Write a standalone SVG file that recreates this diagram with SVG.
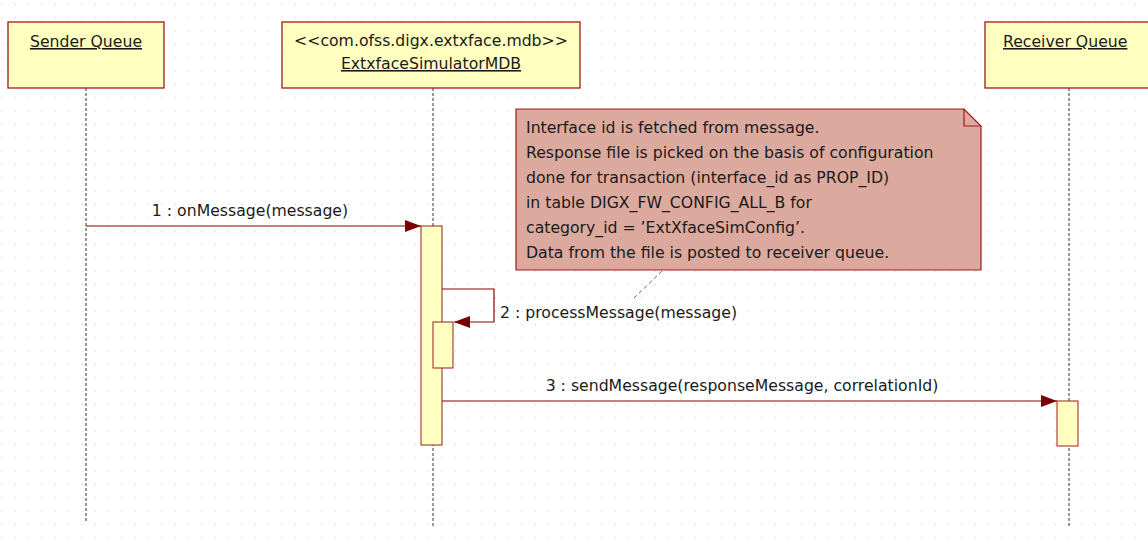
<svg xmlns="http://www.w3.org/2000/svg" width="1148" height="550" viewBox="0 0 1148 550">
<style>
.box{fill:#FFFFC0;stroke:#9B1C1C;stroke-width:1.3}
.act{fill:#FFFFC0;stroke:#9B1C1C;stroke-width:1}
.life{stroke:#333;stroke-width:1;stroke-dasharray:3,2;fill:none}
.msg{stroke:#8B0000;stroke-width:1.2;fill:none}
.t{font-family:"DejaVu Sans","Liberation Sans",sans-serif;font-size:15.7px;fill:#1a1a1a}
.u{text-decoration:underline}
.note{fill:#DCA99E;stroke:#9B1C1C;stroke-width:1.2}
</style>
<defs>
<pattern id="grid" patternUnits="userSpaceOnUse" x="1.67" y="4" width="13.333" height="13.333">
<rect x="0" y="0" width="1" height="1" fill="#c8c8c8"/>
</pattern>
<marker id="arr" markerWidth="16" markerHeight="12" refX="16" refY="6" orient="auto" markerUnits="userSpaceOnUse">
<path d="M0,0 L16,6 L0,12 Z" fill="#7A0000"/>
</marker>
</defs>
<rect width="1148" height="550" fill="#ffffff"/>
<rect width="1148" height="550" fill="url(#grid)"/>

<g id="connectors">
<line class="life" x1="86" y1="88" x2="86" y2="521"/>
<line class="life" x1="433" y1="88" x2="433" y2="528"/>
<line class="life" x1="1069" y1="88" x2="1069" y2="528"/>
<line x1="662" y1="271" x2="632" y2="300" stroke="#B05050" stroke-width="1" stroke-dasharray="4,3"/>
<line class="msg" x1="86" y1="226" x2="421" y2="226" stroke="#B04848" marker-end="url(#arr)"/>
<polyline class="msg" points="442,289 494,289 494,322 454,322" marker-end="url(#arr)"/>
<line class="msg" x1="442" y1="401" x2="1057" y2="401" marker-end="url(#arr)"/>
<text class="t" x="250" y="216" text-anchor="middle">1 : onMessage(message)</text>
<text class="t" x="500" y="318">2 : processMessage(message)</text>
<text class="t" x="742" y="391" text-anchor="middle">3 : sendMessage(responseMessage, correlationId)</text>
</g>

<g id="sender">
<rect class="box" x="8" y="22" width="156" height="66"/>
<text class="t u" x="86" y="47" text-anchor="middle">Sender Queue</text>
</g>

<g id="mdb">
<rect class="box" x="282" y="22" width="298" height="66"/>
<text class="t" x="431" y="46" text-anchor="middle">&lt;&lt;com.ofss.digx.extxface.mdb&gt;&gt;</text>
<text class="t u" x="431" y="69" text-anchor="middle">ExtxfaceSimulatorMDB</text>
</g>

<g id="receiver">
<rect class="box" x="985" y="22" width="170" height="66"/>
<text class="t u" x="1003" y="47">Receiver Queue</text>
</g>

<g id="mdb-activation">
<rect class="act" x="421" y="226" width="21" height="219"/>
<rect class="act" x="433" y="322" width="20" height="46"/>
</g>

<g id="receiver-activation">
<rect class="act" x="1057" y="401" width="21" height="45"/>
</g>

<g id="note">
<path class="note" d="M516,109 L964,109 L981,126 L981,270 L516,270 Z"/>
<path d="M964,109 L964,126 L981,126" fill="none" stroke="#9B1C1C" stroke-width="1.2"/>
<text class="t" x="526" y="133">Interface id is fetched from message.</text>
<text class="t" x="526" y="158">Response file is picked on the basis of configuration</text>
<text class="t" x="526" y="183">done for transaction (interface_id as PROP_ID)</text>
<text class="t" x="526" y="208">in table DIGX_FW_CONFIG_ALL_B for</text>
<text class="t" x="526" y="233">category_id = ’ExtXfaceSimConfig’.</text>
<text class="t" x="526" y="258">Data from the file is posted to receiver queue.</text>
</g>
</svg>
